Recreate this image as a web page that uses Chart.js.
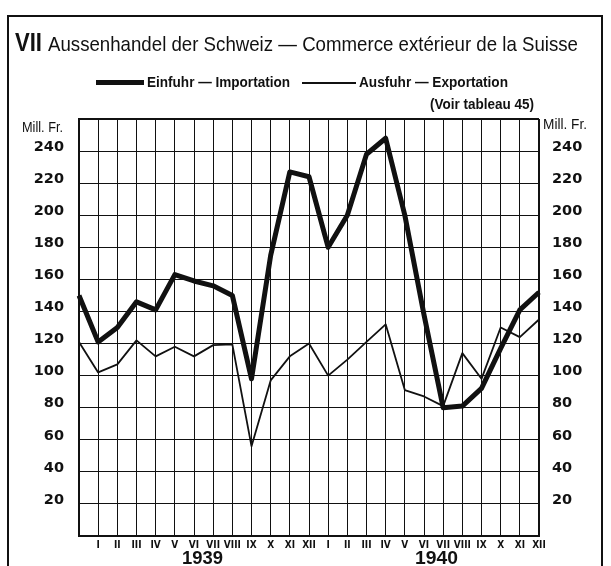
<!DOCTYPE html>
<html>
<head>
<meta charset="utf-8">
<script src="https://cdn.jsdelivr.net/npm/chart.js@4/dist/chart.umd.min.js"></script>
<style>
  body { margin: 0; background: #fff; }
  #wrap { position: relative; width: 611px; height: 566px; overflow: hidden; background: #fff; }
  #frame { position: absolute; left: 7px; top: 15px; width: 596px; height: 560px; border: 2px solid #111; box-sizing: border-box; }
  canvas { position: absolute; left: 0; top: 0; }
  .txt { position: absolute; white-space: nowrap; line-height: 1; color: #111; transform-origin: 0 0;
         font-family: "Liberation Sans", sans-serif; }
  .swatch { position: absolute; background: #111; }
</style>
</head>
<body>
<div id="wrap">
  <div id="frame"></div>
  <canvas id="chart" width="611" height="566"></canvas>
  <div class="txt" id="t-num" style="left:15px; top:29px; font-size:26px; font-weight:bold;">VII</div>
  <div class="txt" id="t-main" style="left:48px; top:33px; font-size:21px;">Aussenhandel der Schweiz — Commerce extérieur de la Suisse</div>
  <div class="swatch" style="left:96px; top:80px; width:48px; height:5px;"></div>
  <div class="txt" id="t-imp" style="left:147px; top:75px; font-size:14px; font-weight:bold;">Einfuhr — Importation</div>
  <div class="swatch" style="left:302px; top:82px; width:54px; height:1.6px;"></div>
  <div class="txt" id="t-exp" style="left:359px; top:75px; font-size:14px; font-weight:bold;">Ausfuhr — Exportation</div>
  <div class="txt" id="t-voir" style="left:430px; top:97px; font-size:14px; font-weight:bold;">(Voir tableau 45)</div>
  <div class="txt" id="t-unit-l" style="left:22px; top:120px; font-size:14px;">Mill. Fr.</div>
  <div class="txt" id="t-unit-r" style="left:543px; top:117px; font-size:14px;">Mill. Fr.</div>
  <div class="txt" id="t-y1" style="left:182px; top:549px; font-size:18px; font-weight:bold;">1939</div>
  <div class="txt" id="t-y2" style="left:415px; top:549px; font-size:18px; font-weight:bold;">1940</div>
</div>
<script>
// months from XII 1938 (unlabelled first point) to XII 1940
const months = ["I", "II", "III", "IV", "V", "VI", "VII", "VIII", "IX", "X", "XI", "XII"];
const xLabels = [""].concat(months, months);

// Mill. Fr.
const importValues = [150, 121, 130, 146, 141, 163, 159, 156, 150, 98, 175, 227, 224,
                      180, 200, 238, 248, 200, 138, 80, 81, 92, 117, 141, 152];
const exportValues = [121, 102, 107, 122, 112, 118, 112, 119, 119.5, 56, 97, 112, 120,
                      100, 110, 121, 132, 91, 87, 81, 114, 98, 130, 124, 135];

const yMin = 0;
const yMax = 260;
const yStep = 20;

const ink = "#111";

function fitText(id, width) {
  const el = document.getElementById(id);
  const w = el.getBoundingClientRect().width;
  el.style.transform = `scaleX(${width / w})`;
}

function yTickLabel(v) {
  return (v === yMin || v === yMax) ? "" : v;
}

const yTickFont = { family: "DejaVu Sans", size: 14.5, weight: "bold" };

const ctx = document.getElementById("chart").getContext("2d");

const chart = new Chart(ctx, {
  type: "line",
  data: {
    labels: xLabels,
    datasets: [
      {
        label: "Einfuhr — Importation",
        data: importValues,
        borderColor: ink,
        borderWidth: 5,
        borderJoinStyle: "round",
        pointRadius: 0,
        tension: 0,
        yAxisID: "y"
      },
      {
        label: "Ausfuhr — Exportation",
        data: exportValues,
        borderColor: ink,
        borderWidth: 1.8,
        borderJoinStyle: "round",
        pointRadius: 0,
        tension: 0,
        yAxisID: "y"
      }
    ]
  },
  options: {
    responsive: false,
    animation: false,
    events: [],
    layout: { padding: { top: 119, left: 0, right: 0, bottom: 0 } },
    plugins: {
      legend: { display: false },
      title: { display: false },
      tooltip: { enabled: false }
    },
    scales: {
      x: {
        type: "category",
        offset: false,
        afterFit: s => { s.height = 30; },
        grid: {
          color: ink,
          lineWidth: c => (c.index === 0 || c.index === xLabels.length - 1) ? 2 : 1,
          drawTicks: false
        },
        border: { display: true, color: ink, width: 2 },
        ticks: {
          autoSkip: false,
          maxRotation: 0,
          padding: 3,
          color: ink,
          font: { family: "'DejaVu Sans Condensed', 'Liberation Sans', sans-serif", size: 10, weight: "bold" }
        }
      },
      y: {
        position: "left",
        min: yMin,
        max: yMax,
        afterFit: s => { s.width = 79; },
        grid: {
          color: ink,
          lineWidth: c => (c.tick.value === yMin || c.tick.value === yMax) ? 2 : 1,
          drawTicks: false
        },
        border: { display: true, color: ink, width: 2 },
        ticks: {
          stepSize: yStep,
          padding: 15,
          labelOffset: -4,
          color: ink,
          font: yTickFont,
          callback: yTickLabel
        }
      },
      y2: {
        position: "right",
        min: yMin,
        max: yMax,
        afterFit: s => { s.width = 72; },
        grid: { drawOnChartArea: false, drawTicks: false },
        border: { display: false },
        ticks: {
          stepSize: yStep,
          padding: 13,
          labelOffset: -4,
          color: ink,
          font: yTickFont,
          callback: yTickLabel
        }
      }
    }
  }
});

fitText("t-num", 27);
fitText("t-main", 530);
fitText("t-imp", 143);
fitText("t-exp", 149);
fitText("t-voir", 104);
fitText("t-unit-l", 41);
fitText("t-unit-r", 44);
fitText("t-y1", 41);
fitText("t-y2", 43);
</script>
</body>
</html>
